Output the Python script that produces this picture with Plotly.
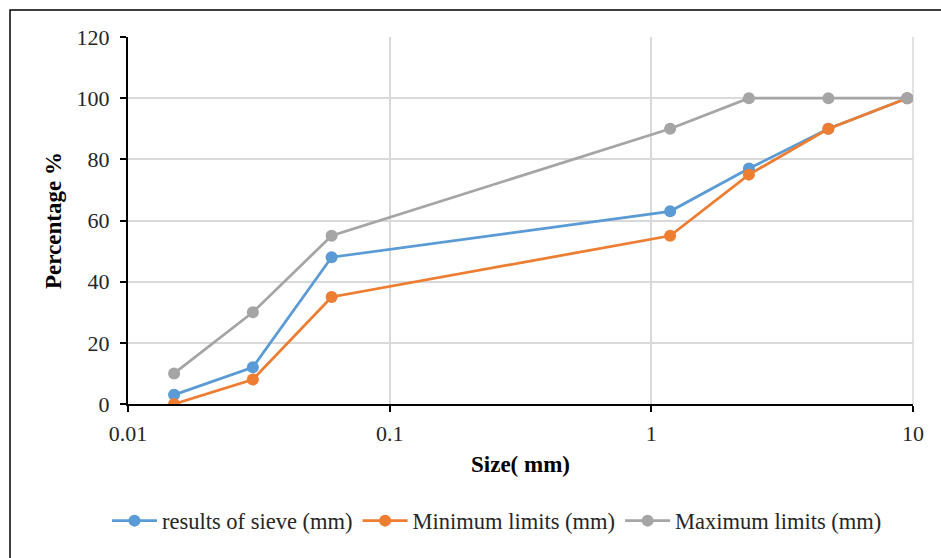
import plotly.graph_objects as go

sizes = [0.015, 0.03, 0.06, 1.18, 2.36, 4.75, 9.5]
results = [3, 12, 48, 63, 77, 90, 100]
minimum = [0, 8, 35, 55, 75, 90, 100]
maximum = [10, 30, 55, 90, 100, 100, 100]

series = [
    ("results of sieve (mm)", results, "#5B9BD5"),
    ("Minimum limits (mm)", minimum, "#ED7D31"),
    ("Maximum limits (mm)", maximum, "#A5A5A5"),
]

FONT = "Liberation Serif"

fig = go.Figure()
for name, vals, col in series:
    fig.add_trace(go.Scatter(
        x=sizes, y=vals, name=name, mode="lines+markers",
        line=dict(color=col, width=2.75),
        marker=dict(color=col, size=12),
    ))

W, H = 941, 558
L, R, T, B = 128, 28, 37, 154
pw, ph = W - L - R, H - T - B

fig.update_layout(
    width=W, height=H,
    margin=dict(l=L, r=R, t=T, b=B, autoexpand=False),
    paper_bgcolor="white", plot_bgcolor="white",
    font=dict(family=FONT, size=22, color="#262626"),
    showlegend=True,
    legend=dict(orientation="h", xref="container", yref="container",
                x=497 / W, xanchor="center", y=1 - 521 / H, yanchor="middle",
                font=dict(family=FONT, size=22.5, color="#262626"), itemwidth=45),
    xaxis=dict(
        type="log", range=[-2, 1],
        tickvals=[0.01, 0.1, 1, 10], ticktext=["0.01", "0.1", "1", "10"],
        showgrid=True, gridcolor="#D9D9D9", gridwidth=1.5,
        showline=True, linecolor="black", linewidth=2,
        ticks="outside", ticklen=6, tickwidth=2, tickcolor="black",
        ticklabelstandoff=3,
        tickfont=dict(family=FONT, size=22, color="#262626"),
        title=dict(text="<b>Size( mm)</b>", font=dict(family=FONT, size=23, color="black"), standoff=10),
        zeroline=False,
    ),
    yaxis=dict(
        range=[0, 120], tickvals=[0, 20, 40, 60, 80, 100, 120],
        showgrid=True, gridcolor="#D9D9D9", gridwidth=1.5,
        showline=True, linecolor="black", linewidth=2,
        ticks="outside", ticklen=6, tickwidth=2, tickcolor="black",
        ticklabelstandoff=6,
        tickfont=dict(family=FONT, size=22, color="#262626"),
        title=dict(text="<b>Percentage %</b>", font=dict(family=FONT, size=23, color="black"), standoff=9),
        zeroline=False,
    ),
    shapes=[
        dict(type="rect", xref="paper", yref="paper",
             x0=(10 - L) / pw, x1=(960 - L) / pw,
             y0=-(B + 20) / ph, y1=1 + (T - 10) / ph,
             line=dict(color="black", width=1.5), fillcolor="rgba(0,0,0,0)", layer="below"),
        dict(type="line", xref="paper", yref="paper", x0=1, x1=1, y0=0, y1=1,
             line=dict(color="#D9D9D9", width=1.5), layer="below"),
    ],
)

fig.write_html("out.html")
